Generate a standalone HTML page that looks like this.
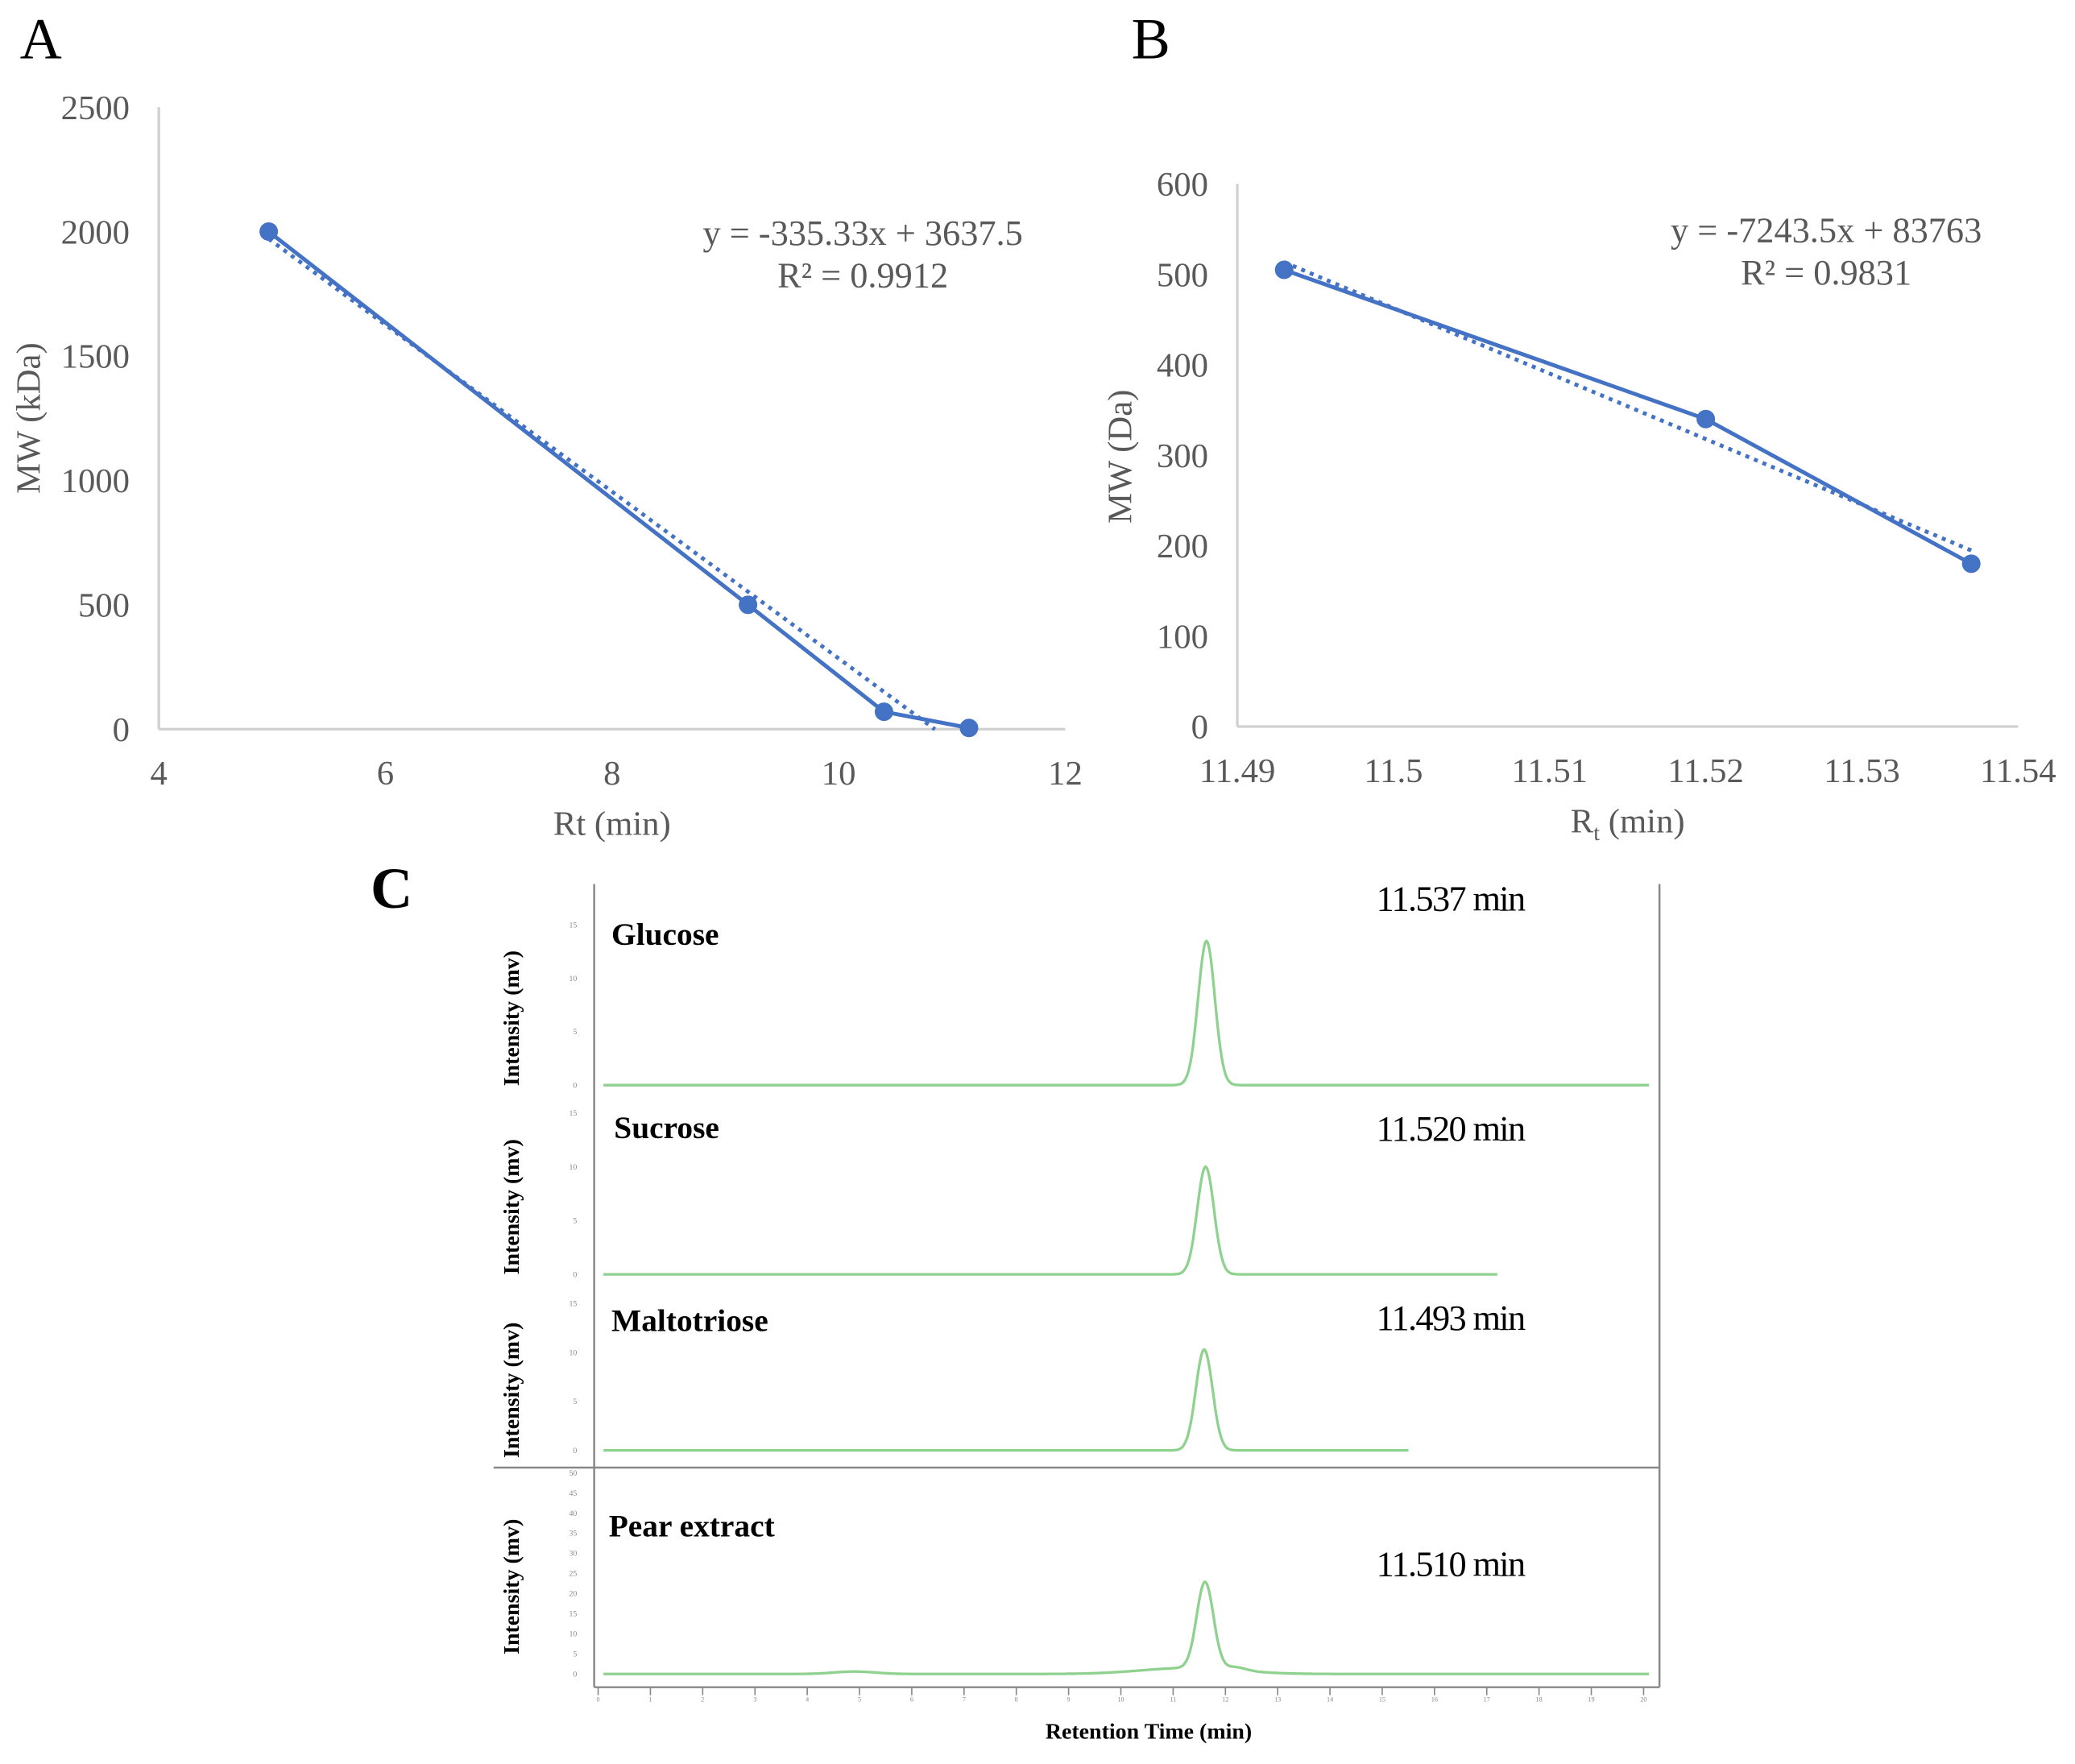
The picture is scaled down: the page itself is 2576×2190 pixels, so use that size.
<!DOCTYPE html>
<html><head><meta charset="utf-8"><style>
html,body{margin:0;padding:0;background:#fff;}
svg{display:block;}
text{font-family:"Liberation Serif",serif;}
</style></head>
<body>
<svg id="fig" width="2576" height="2190" viewBox="0 0 1568 1333" xmlns="http://www.w3.org/2000/svg">
<rect width="1568" height="1333" fill="#fff"/>
<text x="15" y="44" font-size="44" fill="#000">A</text>
<text x="855" y="44" font-size="44" fill="#000">B</text>
<text x="280" y="686" font-size="44" font-weight="bold" fill="#000">C</text>
<g id="A"></g>
<g id="B"></g>
<g id="C"></g>
</svg>
<script>
// Panel A data
const aRt = [4.97, 9.2, 10.4, 11.15];
const aMW = [2000, 500, 70, 5];
const aXTicks = [4, 6, 8, 10, 12];
const aYTicks = [0, 500, 1000, 1500, 2000, 2500];
const aSlope = -335.33, aIntercept = 3637.5;
// Panel B data
const bRt = [11.493, 11.52, 11.537];
const bMW = [505, 340, 180];
const bXTicks = [11.49, 11.5, 11.51, 11.52, 11.53, 11.54];
const bYTicks = [0, 100, 200, 300, 400, 500, 600];
const bSlope = -7243.5, bIntercept = 83763;
// Panel C data
const cNames = ["Glucose", "Sucrose", "Maltotriose", "Pear extract"];
const cLabels = ["11.537 min", "11.520 min", "11.493 min", "11.510 min"];
const cPeakTime = [11.537, 11.52, 11.493, 11.51];
const cPeakHeight = [13.5, 10, 10.3, 21.5];
const cEndTime = [20, 17.1, 15.4, 20];
const cYMax = [15, 15, 15, 50];
const cXTicks = [0,1,2,3,4,5,6,7,8,9,10,11,12,13,14,15,16,17,18,19,20];

const NS = "http://www.w3.org/2000/svg";
function mk(parent, tag, attrs, txt){const e=document.createElementNS(NS,tag);for(const k in attrs)e.setAttribute(k,attrs[k]);if(txt!==undefined)e.textContent=txt;parent.appendChild(e);return e;}
const blue="#4472C4", gray="#595959", axisC="#d0d0d0";

function linePanel(g, cfg){
  const sx=v=>cfg.x0+(v-cfg.xmin)/(cfg.xmax-cfg.xmin)*(cfg.x1-cfg.x0);
  const sy=v=>cfg.y0-(v-cfg.ymin)/(cfg.ymax-cfg.ymin)*(cfg.y0-cfg.y1);
  let e;
  e=mk(g,"line",{x1:cfg.x0,y1:cfg.y1,x2:cfg.x0,y2:cfg.y0,stroke:axisC,"stroke-width":2});
  
  
  e=mk(g,"line",{x1:cfg.x0,y1:cfg.y0,x2:cfg.x1,y2:cfg.y0,stroke:axisC,"stroke-width":2});
  
  
  cfg.xt.forEach(t=>{
    e=mk(g,"text",{x:sx(t),y:cfg.y0+42,"font-size":26,fill:gray,"text-anchor":"middle"},String(t));
    
    
  });
  cfg.yt.forEach(t=>{
    e=mk(g,"text",{x:cfg.x0-22,y:sy(t)+9,"font-size":26,fill:gray,"text-anchor":"end"},String(t));
    
    
  });
  e=mk(g,"text",{x:(cfg.x0+cfg.x1)/2,y:cfg.y0+80,"font-size":26,fill:gray,"text-anchor":"middle"});
  e.innerHTML=cfg.xtitle;
  
  
  e=mk(g,"text",{x:0,y:0,"font-size":26,fill:gray,"text-anchor":"middle",transform:`translate(${cfg.ytx},${cfg.yty}) rotate(-90)`},cfg.ytitle);
  
  
  const xa=cfg.xs[0], xb=cfg.trendEnd;
  e=mk(g,"line",{x1:sx(xa),y1:sy(cfg.m*xa+cfg.b),x2:sx(xb),y2:sy(cfg.m*xb+cfg.b),stroke:blue,"stroke-width":3,"stroke-dasharray":"3 4"});
  
  
  const pts=cfg.xs.map((x,i)=>sx(x)+","+sy(cfg.ys[i])).join(" ");
  e=mk(g,"polyline",{points:pts,fill:"none",stroke:blue,"stroke-width":3,"stroke-linejoin":"round"});
  
  
  cfg.xs.forEach((x,i)=>{
    e=mk(g,"circle",{cx:sx(x),cy:sy(cfg.ys[i]),r:7,fill:blue});
    
    
  });
  e=mk(g,"text",{x:cfg.eqx,y:cfg.eqy,"font-size":27,fill:gray,"text-anchor":"middle"},cfg.eq1);
  
  
  e=mk(g,"text",{x:cfg.eqx,y:cfg.eqy+32,"font-size":27,fill:gray,"text-anchor":"middle"},cfg.eq2);
  
  
}
linePanel(document.getElementById("A"),{x0:120,x1:805,y0:551,y1:81,xmin:4,xmax:12,ymin:0,ymax:2500,xt:aXTicks,yt:aYTicks,xs:aRt,ys:aMW,m:aSlope,b:aIntercept,trendEnd:10.85,xtitle:"Rt (min)",ytitle:"MW (kDa)",ytx:30,yty:316,eqx:652,eqy:185,eq1:"y = -335.33x + 3637.5",eq2:"R² = 0.9912"});
linePanel(document.getElementById("B"),{x0:935,x1:1525,y0:549,y1:139,xmin:11.49,xmax:11.54,ymin:0,ymax:600,xt:bXTicks,yt:bYTicks,xs:bRt,ys:bMW,m:bSlope,b:bIntercept,trendEnd:11.537,xtitle:'R<tspan font-size="17" dy="6">t</tspan><tspan dy="-6"> (min)</tspan>',ytitle:"MW (Da)",ytx:855,yty:345,eqx:1380,eqy:183,eq1:"y = -7243.5x + 83763",eq2:"R² = 0.9831"});

// Panel C
(function(){
  const g=document.getElementById("C");
  const X0=456,X1=1246,green="#8fd18f";
  const sx=t=>X0+t/20*(X1-X0);
  const base=[820,963,1096,1265], top=[699,841,985,1113];
  const nameY=[714,860,1006,1161], labY=[688,862,1005,1191];
  const nameX=[462,464,462,460];
  let e;
  [[449,668,449,1275],[1254,668,1254,1275],[373,1109,1254,1109],[449,1275,1254,1275]].forEach(l=>{
    e=mk(g,"line",{x1:l[0],y1:l[1],x2:l[2],y2:l[3],stroke:"#888","stroke-width":1.5});
    
    
  });
  cXTicks.forEach(t=>{
    e=mk(g,"line",{x1:sx(t)-4,y1:1275,x2:sx(t)-4,y2:1281,stroke:"#888","stroke-width":1});
    
    
    e=mk(g,"text",{x:sx(t)-4,y:1286,"font-size":5,fill:"#888","text-anchor":"middle","font-family":"Liberation Sans, sans-serif"},String(t));
    
    
  });
  e=mk(g,"text",{x:868,y:1314,"font-size":17,"font-weight":"bold",fill:"#000","text-anchor":"middle"},"Retention Time (min)");
  
  
  cNames.forEach((nm,i)=>{
    const b=base[i], sy=v=>b-v/cYMax[i]*(b-top[i]);
    for(let v=0;v<=cYMax[i];v+=5){
      e=mk(g,"text",{x:436,y:sy(v)+2,"font-size":6,fill:"#888","text-anchor":"end","font-family":"Liberation Sans, sans-serif"},String(v));
      
      
    }
    e=mk(g,"text",{x:0,y:0,"font-size":17,"font-weight":"bold",fill:"#000","text-anchor":"middle",transform:`translate(392,${(b+top[i])/2+10}) rotate(-90)`},"Intensity (mv)");
    
    
    e=mk(g,"text",{x:nameX[i],y:nameY[i],"font-size":24,"font-weight":"bold",fill:"#000"},nm);
    
    
    e=mk(g,"text",{x:1040,y:labY[i],"font-size":27,fill:"#000","letter-spacing":"-1"},cLabels[i]);
    
    
    let pts=[];
    for(let t=0;t<=cEndTime[i];t+=0.02){
      let v=cPeakHeight[i]*Math.exp(-Math.pow((t-cPeakTime[i])/0.16,2)/2);
      if(i===3){v+=0.8*Math.exp(-Math.pow((t-12.1)/0.2,2)/2)+0.6*Math.exp(-Math.pow((t-4.8)/0.4,2)/2)+1.5*Math.exp(-Math.pow((t-11.2)/0.9,2)/2);}
      pts.push(sx(t).toFixed(1)+","+sy(v).toFixed(1));
    }
    e=mk(g,"polyline",{points:pts.join(" "),fill:"none",stroke:green,"stroke-width":2});
    
    
  });
})();
</script>
</body></html>
